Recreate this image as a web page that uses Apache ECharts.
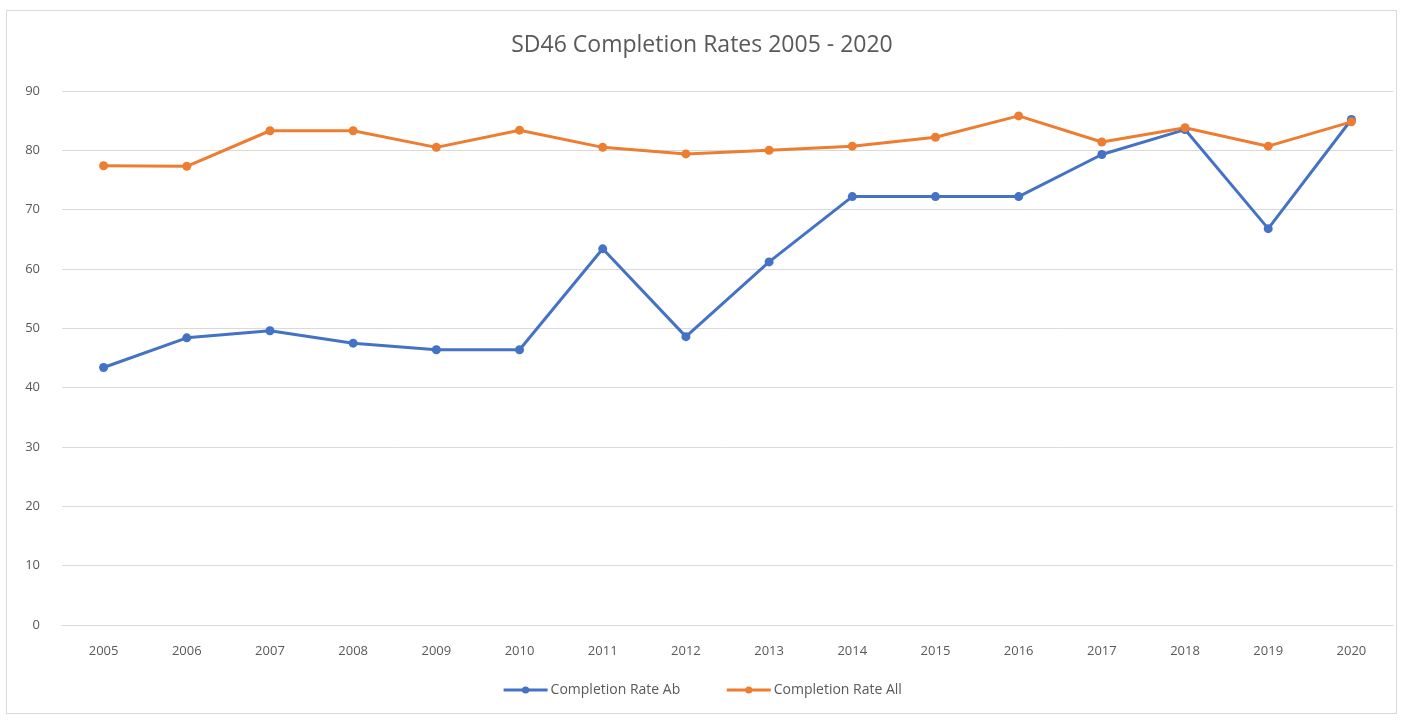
<!DOCTYPE html>
<html>
<head>
<meta charset="utf-8">
<script src="https://cdn.jsdelivr.net/npm/echarts@6/dist/echarts.min.js"></script>
<style>
    html, body { margin: 0; padding: 0; background: #fff; }
    #frame {
        position: absolute; left: 6px; top: 10px; width: 1391px; height: 704px;
        border: 1px solid #d9d9d9; box-sizing: border-box;
    }
    #chart { width: 1404px; height: 720px; position: absolute; left: 0; top: 0; }
</style>
</head>
<body>
<div id="frame"></div>
<div id="chart"></div>
<script>
    const years = ["2005", "2006", "2007", "2008", "2009", "2010", "2011", "2012",
        "2013", "2014", "2015", "2016", "2017", "2018", "2019", "2020"];
    const rateAb = [43.4, 48.4, 49.6, 47.5, 46.4, 46.4, 63.4, 48.6, 61.2, 72.2, 72.2, 72.2, 79.3, 83.5, 66.8, 85.2];
    const rateAll = [77.4, 77.3, 83.3, 83.3, 80.5, 83.4, 80.5, 79.4, 80.0, 80.7, 82.2, 85.8, 81.4, 83.8, 80.7, 84.8];
    const yTicks = { min: 0, max: 90, interval: 10 };

    const textColor = "#595959";
    const font = "'Open Sans', 'Liberation Sans', sans-serif";

    const chart = echarts.init(document.querySelector("#chart"));
    chart.setOption({
        animation: false,
        textStyle: { fontFamily: font },
        title: {
            text: "SD46 Completion Rates 2005 - 2020",
            left: "center",
            top: 29,
            textStyle: { fontSize: 23, fontWeight: "normal", color: textColor, fontFamily: font }
        },
        legend: {
            bottom: 18,
            left: "center",
            itemWidth: 44,
            itemHeight: 9,
            itemGap: 45,
            lineStyle: { width: 3 },
            textStyle: { color: textColor, fontSize: 14, padding: [0, 0, 0, -2] },
            data: ["Completion Rate Ab", "Completion Rate All"]
        },
        grid: { left: 62, right: 11, top: 91, bottom: 95 },
        xAxis: {
            type: "category",
            data: years,
            boundaryGap: true,
            axisTick: { show: false },
            axisLine: { lineStyle: { color: "#d9d9d9", width: 1 } },
            axisLabel: { color: textColor, fontSize: 13, margin: 20 }
        },
        yAxis: {
            type: "value",
            min: yTicks.min,
            max: yTicks.max,
            interval: yTicks.interval,
            axisLine: { show: false },
            axisTick: { show: false },
            splitLine: { lineStyle: { color: "#d9d9d9", width: 1 } },
            axisLabel: { color: textColor, fontSize: 13, margin: 22 }
        },
        series: [
            {
                name: "Completion Rate Ab",
                type: "line",
                data: rateAb,
                symbol: "circle",
                symbolSize: 9,
                lineStyle: { color: "#4472C4", width: 3 },
                itemStyle: { color: "#4472C4" }
            },
            {
                name: "Completion Rate All",
                type: "line",
                data: rateAll,
                symbol: "circle",
                symbolSize: 9,
                lineStyle: { color: "#ED7D31", width: 3 },
                itemStyle: { color: "#ED7D31" }
            }
        ]
    });
</script>
</body>
</html>
